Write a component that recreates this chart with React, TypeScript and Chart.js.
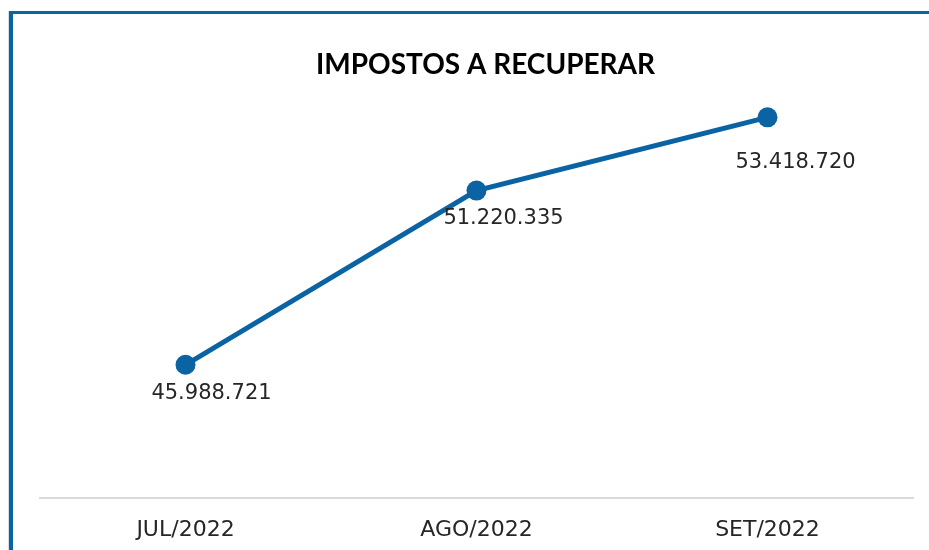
import React, { useEffect, useRef } from "react";
import { Chart, registerables } from "chart.js";

Chart.register(...registerables);

const TITLE = "IMPOSTOS A RECUPERAR";
const categories = ["JUL/2022", "AGO/2022", "SET/2022"];
const values = [45988721, 51220335, 53418720];
const valueLabels = ["45.988.721", "51.220.335", "53.418.720"];
const yMin = 42000000;
const yMax = 54000000;

const BLUE = "#0a64a3";

const labelsPlugin = {
  id: "customLabels",
  afterDatasetsDraw(chart: any, _args: any, opts: any) {
    const ctx = chart.ctx;
    const meta = chart.getDatasetMeta(0);
    ctx.save();
    ctx.font = "21px 'DejaVu Sans'";
    ctx.fillStyle = "#262626";
    ctx.textAlign = "center";
    ctx.textBaseline = "middle";
    meta.data.forEach((pt: any, i: number) => {
      const off = opts.offsets[i];
      ctx.fillText(valueLabels[i], pt.x + off[0], pt.y + off[1]);
    });
    // title
    const ca = chart.chartArea;
    ctx.font = "bold 28px Lato";
    ctx.fillStyle = "#000000";
    ctx.fillText(TITLE, (ca.left + ca.right) / 2 + 9, 65);
    ctx.restore();
  },
};

export default function App() {
  const ref = useRef<HTMLCanvasElement | null>(null);
  useEffect(() => {
    if (!ref.current) return;
    const chart = new Chart(ref.current, {
      type: "line",
      data: {
        labels: categories,
        datasets: [
          {
            data: values,
            borderColor: BLUE,
            backgroundColor: BLUE,
            borderWidth: 5,
            pointRadius: 10,
            pointBorderWidth: 0,
            pointBackgroundColor: BLUE,
            tension: 0,
          },
        ],
      },
      options: {
        responsive: false,
        animation: false,
        events: [],
        layout: { padding: { left: 40, right: 16, top: 98, bottom: 9 } },
        plugins: {
          legend: { display: false },
          title: { display: false },
          tooltip: { enabled: false },
          customLabels: {
            offsets: [
              [26, 29],
              [27, 28],
              [28, 45],
            ],
          },
        } as any,
        scales: {
          x: {
            offset: true,
            grid: { display: false, drawTicks: false },
            border: { display: true, color: "#d9d9d9", width: 2 },
            ticks: {
              padding: 19,
              color: "#262626",
              font: { family: "'DejaVu Sans'", size: 22 },
            },
          },
          y: {
            display: false,
            min: yMin,
            max: yMax,
          },
        },
      },
      plugins: [labelsPlugin],
    });
    return () => chart.destroy();
  }, []);

  return (
    <div
      style={{
        position: "fixed",
        left: 0,
        top: 0,
        width: 929,
        height: 550,
        background: "#ffffff",
        overflow: "hidden",
      }}
    >
      <canvas
        ref={ref}
        width={929}
        height={571}
        style={{ position: "absolute", left: 0, top: 0, width: 929, height: 571 }}
      />
      <div style={{ position: "absolute", left: 8, top: 11, width: 1, height: 539, background: "#d5dde6" }} />
      <div style={{ position: "absolute", left: 9, top: 11, width: 4, height: 539, background: BLUE }} />
      <div style={{ position: "absolute", left: 9, top: 11, width: 920, height: 3, background: BLUE }} />
    </div>
  );
}
